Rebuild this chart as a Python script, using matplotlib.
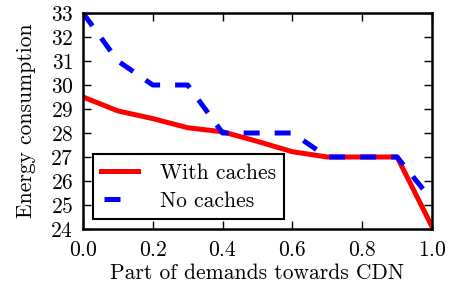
import matplotlib
matplotlib.use("Agg")
import matplotlib.pyplot as plt

# part of demands towards CDN
x = [0.0, 0.1, 0.2, 0.3, 0.4, 0.5, 0.6, 0.7, 0.8, 0.9, 1.0]
with_caches = [29.5, 28.92, 28.6, 28.22, 28.05, 27.65, 27.22, 27.0, 27.0, 27.0, 24.1]
no_caches = [33.0, 31.0, 30.0, 30.0, 28.0, 28.0, 28.0, 27.0, 27.0, 27.0, 25.2]

plt.rcParams['font.family'] = 'serif'
plt.rcParams['font.serif'] = ['cmr10', 'DejaVu Serif']
plt.rcParams['axes.formatter.use_mathtext'] = True
plt.rcParams['font.size'] = 15.5

fig = plt.figure(figsize=(4.52, 2.91), dpi=100)
ax = fig.add_axes([83/452, 1 - 229/291, (432-83)/452, (229-13)/291])

ax.plot(x, with_caches, color='red', lw=3.6, label='With caches')
ax.plot(x, no_caches, color='blue', lw=3.6, ls=(0, (3.2, 3.0)), label='No caches')

ax.set_xlim(0, 1)
ax.set_ylim(24, 33)
ax.set_xticks([0.0, 0.2, 0.4, 0.6, 0.8, 1.0])
ax.set_yticks(range(24, 34))
ax.tick_params(direction='in', length=6, width=1, top=True, right=True)
ax.tick_params(axis='x', pad=8)
ax.tick_params(axis='y', pad=7)
for s in ax.spines.values():
    s.set_linewidth(1.8)

ax.set_xlabel('Part of demands towards CDN', labelpad=3)
ax.set_ylabel('Energy consumption', labelpad=10)

leg = ax.legend(loc='lower left', bbox_to_anchor=(0.028, 0.045), fancybox=False,
                framealpha=1, edgecolor='black', handlelength=1.7, borderpad=0.4,
                labelspacing=0.4, handletextpad=1.0, borderaxespad=0)
leg.get_frame().set_linewidth(1.5)
# single dash in the legend handle, like the original
leg.get_lines()[1].set_linestyle((12.6, (3.2, 10)))

fig.savefig('out.png', dpi=100)
